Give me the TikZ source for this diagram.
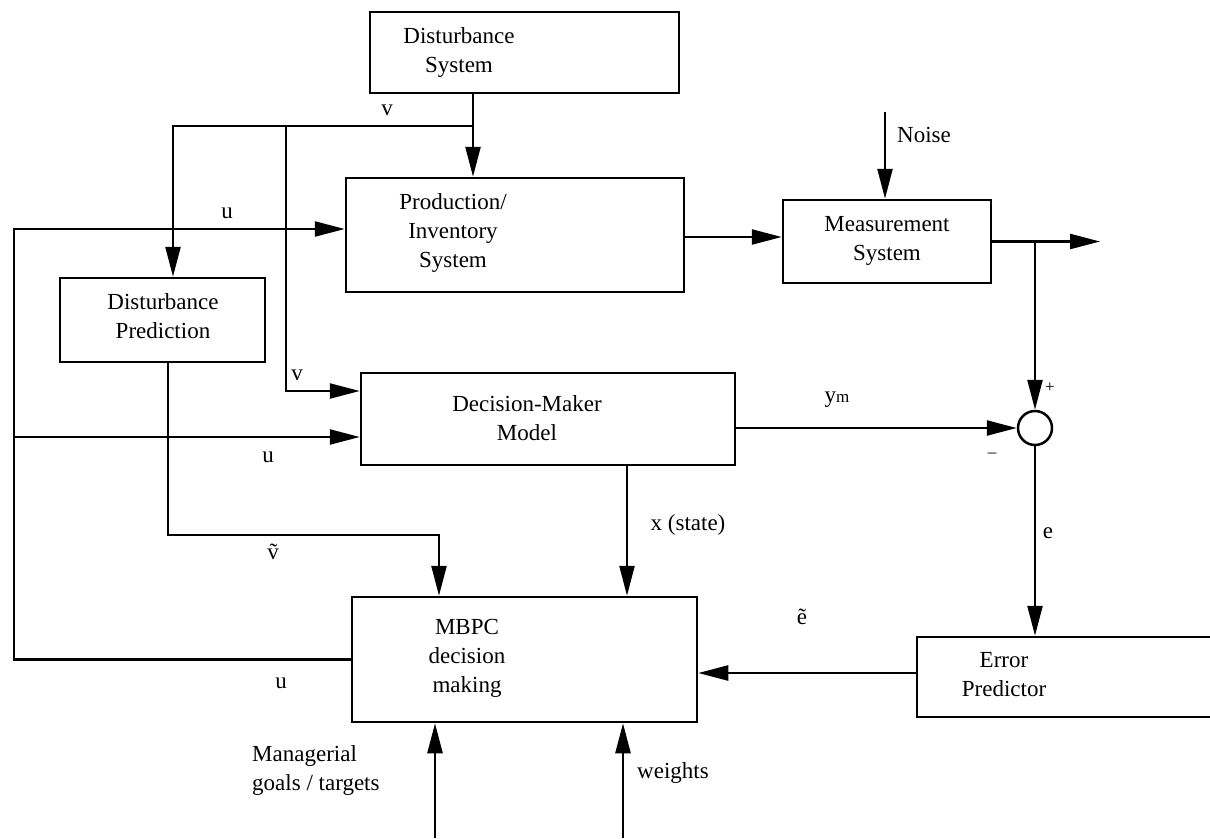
\documentclass[tikz,border=0pt]{standalone}
\usepackage{fontspec}
\setmainfont{Liberation Serif}
\usetikzlibrary{calc, arrows.meta}

\tikzset{
  blk/.style={draw, line width=2.5pt, inner sep=0pt},
  lbl/.style={font=\fontsize{23}{29}\selectfont, align=center, inner sep=0pt},
  wire/.style={line width=2.4pt},
  sig/.style={wire, -{Triangle[length=30pt,width=15pt]}}
}

\begin{document}
\begin{tikzpicture}[x=1pt, y=-1pt]
  \clip (0,0) rectangle (1210,838);
  % blocks
  \node[blk, minimum width=309pt, minimum height=81pt] (dsys) at (524.5,52.5) {};
  \node[blk, minimum width=338pt, minimum height=114pt] (prod) at (515,235) {};
  \node[blk, minimum width=208pt, minimum height=83pt] (meas) at (887,241.5) {};
  \node[blk, minimum width=205pt, minimum height=84pt] (dpred) at (162.5,320) {};
  \node[blk, minimum width=374pt, minimum height=92pt] (dmm) at (548,419) {};
  \node[blk, minimum width=345pt, minimum height=125pt] (mbpc) at (524.5,659.5) {};
  \node[blk, minimum width=323pt, minimum height=80pt] (errp) at (1078.5,677) {};
  \node[blk, circle, minimum size=34pt] (sum) at (1035,428) {};

  \node[lbl] (dsyst) at (459,53) {Disturbance\\System};
  \node[lbl] (prodt) at (453,233) {Production/\\Inventory\\System};
  \node[lbl] (meast) at (887,241) {Measurement\\System};
  \node[lbl] (dpredt) at (163,316) {Disturbance\\Prediction};
  \node[lbl] (dmmt) at (527,418) {Decision-Maker\\Model};
  \node[lbl] (mbpct) at (467,658) {MBPC\\decision\\making};
  \node[lbl] (errpt) at (1004,675) {Error\\Predictor};

  % junctions and free ends
  \coordinate (vj) at (473,126);
  \coordinate (vb) at (286,126);
  \coordinate (uc) at (14,229);
  \coordinate (ub) at (14,437);
  \coordinate (vt) at (439,535);
  \coordinate (noise) at (885,112);
  \coordinate (out) at (1100,241.5);
  \coordinate (goal) at (435,838);
  \coordinate (wgt) at (623,838);

  \draw[wire] (vj |- dsys.south) -- (vj);
  \draw[sig] (vj) -- (vj |- prod.north);
  \draw[sig] (vj) -| ([xshift=10.5pt]dpred.north);
  \draw[sig] (vb) |- ([yshift=28pt]dmm.west);
  \draw[sig] (mbpc.west) -| (uc) -- (uc -| prod.west);
  \draw[sig] (ub) -- (ub -| dmm.west);
  \draw[sig] ([xshift=5.5pt]dpred.south) |- (vt) -- (vt |- mbpc.north);
  \draw[sig] ([xshift=79pt]dmm.south) -- ([xshift=79pt]dmm.south |- mbpc.north);
  \draw[sig] ([yshift=-2pt]prod.east) -- ([yshift=-2pt]prod.east -| meas.west);
  \draw[sig] (noise) -- (noise |- meas.north);
  \draw[sig] (meas.east) -- (out);
  \draw[sig] (sum |- meas.east) -- (sum.north);
  \draw[sig] (dmm.east |- sum) -- (sum.west);
  \draw[sig] (sum.south) -- (sum |- errp.north);
  \draw[sig] ([yshift=4pt]errp.west) -- ([yshift=4pt]errp.west -| mbpc.east);
  \draw[sig] (goal) -- (goal |- mbpc.south);
  \draw[sig] (wgt) -- (wgt |- mbpc.south);

  % signal labels
  \node[lbl] (lv1) at (387,110) {v};
  \node[lbl] (lu1) at (227,213) {u};
  \node[lbl] (lv2) at (297,375) {v};
  \node[lbl] (lu2) at (268,457) {u};
  \node[lbl] (lvt) at (273,552) {\~{v}};
  \node[lbl] (lu3) at (281,683) {u};
  \node[lbl] (lx) at (688,525) {x (state)};
  \node[lbl] (lym) at (837,400) {y{\fontsize{17}{17}\selectfont m}};
  \node[lbl, font=\fontsize{17}{17}\selectfont] (lp) at (1050,388) {+};
  \node[lbl, font=\fontsize{17}{17}\selectfont] (lm) at (992,455) {–};
  \node[lbl] (le) at (1048,533) {e};
  \node[lbl] (let) at (802,617) {\~{e}};
  \node[lbl, anchor=west] (lnoise) at (897,135) {Noise};
  \node[lbl, anchor=west] (lw) at (637,773) {weights};
  \node[lbl, align=left, anchor=west] (lgoal) at (252,770) {Managerial\\goals / targets};
\end{tikzpicture}
\end{document}
